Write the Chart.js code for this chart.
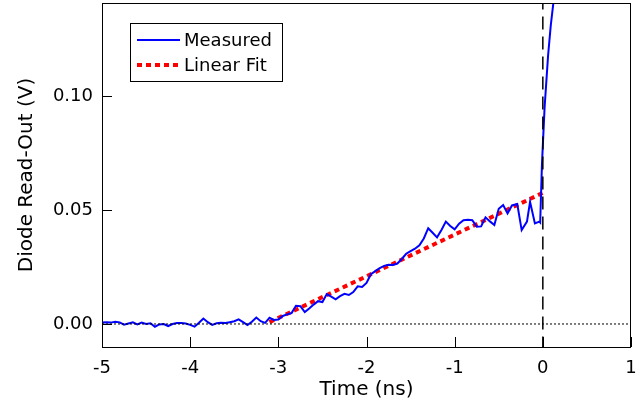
<!DOCTYPE html>
<html>
<head>
<meta charset="utf-8">
<script src="https://cdn.jsdelivr.net/npm/chart.js@4/dist/chart.umd.min.js"></script>
<style>
  body { margin: 0; background: #fff; }
  #wrap { width: 641px; height: 411px; }
</style>
</head>
<body>
<div id="wrap"><canvas id="chart" width="641" height="411"></canvas></div>
<script>
// measured diode signal (time in ns, volts)
const timeNs = [
  -5.00, -4.95, -4.90, -4.85, -4.80, -4.75, -4.70, -4.65, -4.60, -4.55,
  -4.50, -4.45, -4.40, -4.35, -4.30, -4.25, -4.20, -4.15, -4.10, -4.05,
  -4.00, -3.95, -3.90, -3.85, -3.80, -3.75, -3.70, -3.65, -3.60, -3.55,
  -3.50, -3.45, -3.40, -3.35, -3.30, -3.25, -3.20, -3.15, -3.10, -3.05,
  -3.00, -2.95, -2.90, -2.85, -2.80, -2.75, -2.70, -2.65, -2.60, -2.55,
  -2.50, -2.45, -2.40, -2.35, -2.30, -2.25, -2.20, -2.15, -2.10, -2.05,
  -2.00, -1.95, -1.90, -1.85, -1.80, -1.75, -1.70, -1.65, -1.60, -1.55,
  -1.50, -1.45, -1.40, -1.35, -1.30, -1.25, -1.20, -1.15, -1.10, -1.05,
  -1.00, -0.95, -0.90, -0.85, -0.80, -0.75, -0.70, -0.65, -0.60, -0.55,
  -0.50, -0.45, -0.40, -0.35, -0.29, -0.24, -0.18, -0.145, -0.09, -0.04,
  -0.03, -0.01, 0.02, 0.06, 0.09, 0.12, 0.16
];
const measured = [
  0.0006, 0.0008, 0.0006, 0.0010, 0.0007, -0.0003, 0.0002, 0.0007, -0.0002, 0.0006,
  0.0000, 0.0003, -0.0012, -0.0002, 0.0000, -0.0009, 0.0000, 0.0004, 0.0004, 0.0002,
  -0.0004, -0.0012, 0.0005, 0.0024, 0.0008, -0.0004, 0.0003, 0.0005, 0.0004, 0.0008,
  0.0012, 0.0020, 0.0008, -0.0005, 0.0010, 0.0028, 0.0012, 0.0005, 0.0027, 0.0018,
  0.0020, 0.0035, 0.0042, 0.0048, 0.0080, 0.0078, 0.0052, 0.0068, 0.0085, 0.0100,
  0.0096, 0.0131, 0.0120, 0.0108, 0.0122, 0.0132, 0.0127, 0.0140, 0.0165, 0.0162,
  0.0180, 0.0218, 0.0232, 0.0245, 0.0255, 0.0260, 0.0259, 0.0265, 0.0285, 0.0308,
  0.0320, 0.0330, 0.0345, 0.0375, 0.0420, 0.0400, 0.0380, 0.0412, 0.0449, 0.0430,
  0.0415, 0.0440, 0.0455, 0.0457, 0.0455, 0.0427, 0.0428, 0.0468, 0.0450, 0.0434,
  0.0505, 0.0522, 0.0485, 0.0520, 0.0526, 0.0412, 0.0449, 0.0536, 0.0441, 0.0449,
  0.0445, 0.0700, 0.0950, 0.1180, 0.1310, 0.1410, 0.1520
];

// linear fit end points
const fitTime = [-3.1, 0];
const fitVolts = [0.0008, 0.0575];

const xTicks = [-5, -4, -3, -2, -1, 0, 1];
const yTicks = [0.00, 0.05, 0.10];

const toPts = (xs, ys) => xs.map((x, i) => ({ x: x, y: ys[i] }));

const FONT = '"DejaVu Sans", sans-serif';

// inward ticks, box frame and legend box
const framePlugin = {
  id: 'frame',
  afterDraw(chart) {
    const ctx = chart.ctx;
    const a = chart.chartArea;
    const xs = chart.scales.x, ys = chart.scales.y;
    ctx.save();
    ctx.strokeStyle = '#000';
    ctx.lineWidth = 1;
    ctx.strokeRect(a.left + 0.5, a.top + 0.5, a.right - a.left - 1, a.bottom - a.top);
    ctx.beginPath();
    xTicks.forEach(v => {
      const px = Math.round(xs.getPixelForValue(v)) + 0.5;
      ctx.moveTo(px, a.bottom);
      ctx.lineTo(px, a.bottom - 10);
    });
    yTicks.forEach(v => {
      const py = Math.round(ys.getPixelForValue(v)) + 0.5;
      ctx.moveTo(a.left, py);
      ctx.lineTo(a.left + 10, py);
    });
    ctx.stroke();

    // legend
    const lx = 130, ly = 23, lw = 152, lh = 58;
    ctx.fillStyle = '#fff';
    ctx.fillRect(lx, ly, lw, lh);
    ctx.strokeRect(lx + 0.5, ly + 0.5, lw, lh);
    const items = chart.data.datasets.filter(d => d.inLegend);
    items.forEach((d, i) => {
      const y = ly + 17 + i * 25;
      ctx.beginPath();
      ctx.strokeStyle = d.borderColor;
      ctx.lineWidth = d.borderWidth;
      ctx.setLineDash(d.borderDash || []);
      ctx.moveTo(137, y);
      ctx.lineTo(180, y);
      ctx.stroke();
      ctx.setLineDash([]);
      ctx.fillStyle = '#000';
      ctx.font = '18px ' + FONT;
      ctx.textBaseline = 'middle';
      ctx.fillText(d.label, 184, y + 1);
    });
    ctx.restore();
  }
};

new Chart(document.getElementById('chart'), {
  type: 'scatter',
  data: {
    datasets: [
      {
        label: 'zero',
        data: toPts([-5, 1], [0, 0]),
        showLine: true, pointRadius: 0,
        borderColor: '#000', borderWidth: 1, borderDash: [2, 2]
      },
      {
        label: 'origin',
        data: toPts([0, 0], [-0.02, 0.2]),
        showLine: true, pointRadius: 0,
        borderColor: '#000', borderWidth: 1.5, borderDash: [13, 7]
      },
      {
        label: 'Measured', inLegend: true,
        data: toPts(timeNs, measured),
        showLine: true, pointRadius: 0,
        borderColor: '#0000ff', borderWidth: 2
      },
      {
        label: 'Linear Fit', inLegend: true,
        data: toPts(fitTime, fitVolts),
        showLine: true, pointRadius: 0,
        borderColor: '#ff0000', borderWidth: 4, borderDash: [5, 4]
      }
    ]
  },
  options: {
    responsive: false,
    animation: false,
    devicePixelRatio: 1,
    layout: { padding: { left: 0, right: 10, top: 3, bottom: 0 } },
    plugins: { legend: { display: false }, tooltip: { enabled: false } },
    scales: {
      x: {
        type: 'linear', min: -5, max: 1,
        grid: { display: false, drawTicks: false },
        border: { display: false },
        afterBuildTicks: s => { s.ticks = xTicks.map(v => ({ value: v })); },
        afterFit: s => { s.height = 64; s.paddingLeft = 0; s.paddingRight = 0; },
        ticks: { color: '#000', font: { family: FONT, size: 18 }, padding: 11, maxRotation: 0,
                 callback: v => String(v) },
        title: { display: true, text: 'Time (ns)', color: '#000',
                 font: { family: FONT, size: 20 }, padding: { top: 0, bottom: 9 } }
      },
      y: {
        type: 'linear', min: -0.0101, max: 0.1408,
        grid: { display: false, drawTicks: false },
        border: { display: false },
        afterBuildTicks: s => { s.ticks = yTicks.map(v => ({ value: v })); },
        afterFit: s => { s.width = 102; s.paddingTop = 0; s.paddingBottom = 0; },
        ticks: { color: '#000', font: { family: FONT, size: 18 }, padding: 9,
                 callback: v => Number(v).toFixed(2) },
        title: { display: true, text: 'Diode Read-Out (V)', color: '#000',
                 font: { family: FONT, size: 20 }, padding: { top: 15, bottom: 4 } }
      }
    }
  },
  plugins: [framePlugin]
});
</script>
</body>
</html>
